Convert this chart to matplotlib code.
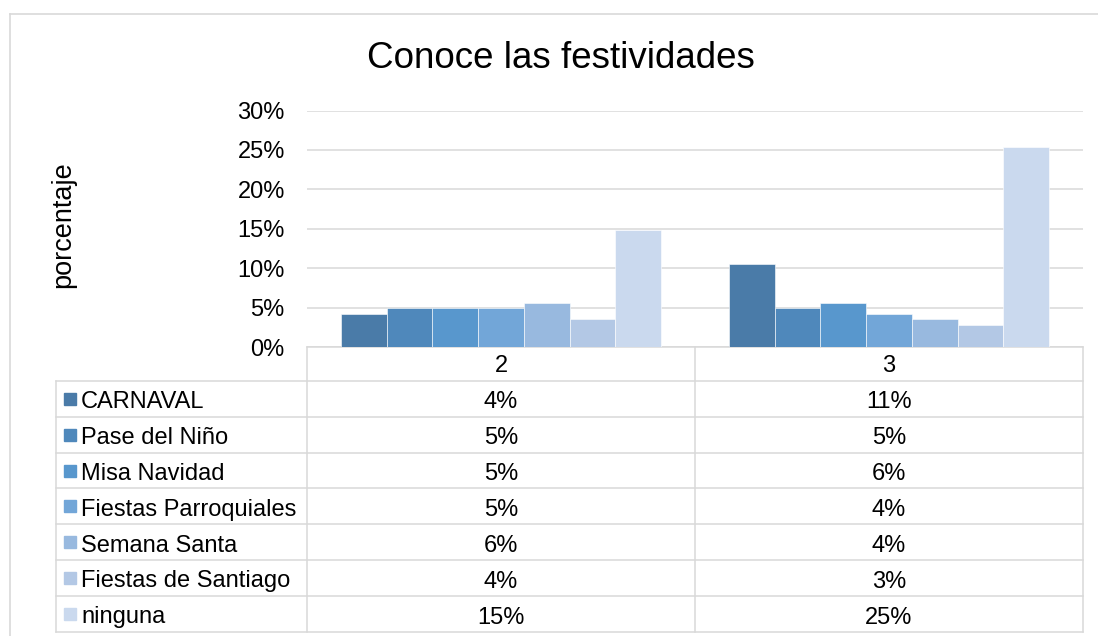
import matplotlib.pyplot as plt
from matplotlib.lines import Line2D
from matplotlib.patches import Rectangle

plt.rcParams['font.family'] = ['Liberation Sans', 'DejaVu Sans']

# datos
categorias = ['2', '3']
series = ['CARNAVAL', 'Pase del Niño', 'Misa Navidad', 'Fiestas Parroquiales',
          'Semana Santa', 'Fiestas de Santiago', 'ninguna']
valores_2 = [4.23, 4.93, 4.93, 4.93, 5.63, 3.52, 14.79]
valores_3 = [10.56, 4.93, 5.63, 4.23, 3.52, 2.82, 25.35]
colores = ['#4a7ba8', '#4f88bb', '#5897cd', '#72a6d8', '#98b9df', '#b3c8e5', '#cad9ee']

W, H = 1098, 636
fig = plt.figure(figsize=(W / 100, H / 100), dpi=100)
grid = '#d9d9d9'
fs = 17

# capa en pixeles para marco, tabla y textos
capa = fig.add_axes([0, 0, 1, 1])
capa.set_xlim(0, W)
capa.set_ylim(H, 0)
capa.axis('off')

# area del grafico
x0, x1, y_top, y_cero = 307, 1083, 110.5, 347
ax = fig.add_axes([x0 / W, 1 - y_cero / H, (x1 - x0) / W, (y_cero - y_top) / H])
ancho = 0.1178
for i, s in enumerate(series):
    vals = [valores_2[i], valores_3[i]]
    pos = [k + (i - 3) * ancho for k in range(len(categorias))]
    ax.bar(pos, vals, width=ancho, color=colores[i], edgecolor='white', linewidth=0.4, zorder=3)
ax.set_xlim(-0.5, 1.5)
ax.set_ylim(0, 30)
ax.set_yticks(range(0, 31, 5))
ax.set_yticklabels([f'{t}%' for t in range(0, 31, 5)], fontsize=fs)
ax.tick_params(axis='y', length=0, pad=16)
ax.set_xticks([])
ax.grid(axis='y', color=grid, linewidth=1.1, zorder=0)
for sp in ax.spines.values():
    sp.set_visible(False)
ax.patch.set_alpha(0)

# marco exterior
capa.add_line(Line2D([10, 10], [14, H + 5], color=grid, lw=1.2))
capa.add_line(Line2D([10, W + 5], [14, 14], color=grid, lw=1.2))

# titulo y etiqueta
capa.text(561, 68.3, 'Conoce las festividades', fontsize=26.5, ha='center', va='baseline')
capa.text(63, 225, 'porcentaje', fontsize=19.5, rotation=90, ha='center', va='center')

# tabla de datos
xl, xm = 56, 695
filas = [347, 381, 416.8, 452.6, 488.4, 524.2, 560, 596, 632]
lw = 1.1
capa.add_line(Line2D([x0, x1], [filas[0], filas[0]], color=grid, lw=lw))
for y in filas[1:]:
    capa.add_line(Line2D([xl, x1], [y, y], color=grid, lw=lw))
capa.add_line(Line2D([xl, xl], [filas[1], filas[-1]], color=grid, lw=lw))
for x in (x0, xm, x1):
    capa.add_line(Line2D([x, x], [filas[0], filas[-1]], color=grid, lw=lw))

centros = [(x0 + xm) / 2, (xm + x1) / 2]
for k, c in enumerate(categorias):
    capa.text(centros[k], filas[1] - 8.7, c, fontsize=fs, ha='center', va='baseline')
for i, s in enumerate(series):
    yc = (filas[i + 1] + filas[i + 2]) / 2
    base = filas[i + 2] - 8.5
    capa.add_patch(Rectangle((64, yc - 6), 12, 12, color=colores[i]))
    capa.text(81, base, s, fontsize=fs, ha='left', va='baseline')
    for k, v in enumerate([valores_2[i], valores_3[i]]):
        capa.text(centros[k], base, f'{v:.0f}%', fontsize=fs, ha='center', va='baseline')

fig.savefig('out.png', dpi=100, facecolor='white')
